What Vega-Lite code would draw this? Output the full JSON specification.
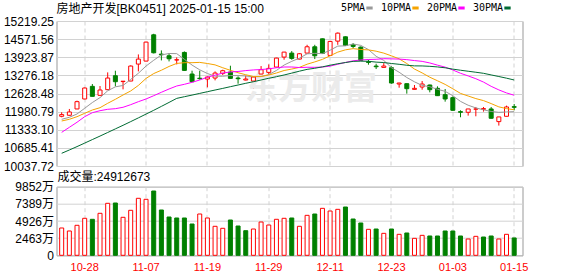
{
  "$schema": "https://vega.github.io/schema/vega-lite/v6.json",
  "padding": {"left": 0.5, "top": 3, "right": 0, "bottom": 0},
  "background": "#ffffff",
  "bounds": "flush",
  "spacing": 20.7,
  "config": {
    "font": "Liberation Sans",
    "view": {"stroke": "#999999", "strokeWidth": 1},
    "axis": {"labelFont": "Liberation Sans, Noto Sans CJK SC", "labelFontSize": 12, "labelColor": "#000000", "gridColor": "#d2d2d2", "gridWidth": 1, "domain": false, "ticks": false, "labelOverlap": false}
  },
  "datasets": {
    "k": [
      {"date":"2024-10-23","o":11814,"h":11957,"l":11779,"c":11874,"up":"r","v":3921,"vup":"r","5PMA":11707,"10PMA":11646,"20PMA":11240,"30PMA":10492},
      {"date":"2024-10-24","o":11850,"h":12076,"l":11840,"c":11969,"up":"r","v":3490,"vup":"r","5PMA":11778,"10PMA":11707,"20PMA":11420,"30PMA":10610},
      {"date":"2024-10-25","o":12076,"h":12373,"l":12070,"c":12337,"up":"r","v":4308,"vup":"r","5PMA":11896,"10PMA":11800,"20PMA":11600,"30PMA":10731},
      {"date":"2024-10-28","o":12432,"h":12840,"l":12425,"c":12825,"up":"r","v":5314,"vup":"r","5PMA":12100,"10PMA":11921,"20PMA":11800,"30PMA":10856},
      {"date":"2024-10-29","o":12884,"h":12967,"l":12527,"c":12527,"up":"g","v":5170,"vup":"g","5PMA":12306,"10PMA":12039,"20PMA":11943,"30PMA":10982},
      {"date":"2024-10-30","o":12563,"h":12896,"l":12555,"c":12753,"up":"r","v":6032,"vup":"r","5PMA":12482,"10PMA":12121,"20PMA":12014,"30PMA":11107},
      {"date":"2024-10-31","o":12765,"h":13383,"l":12760,"c":13181,"up":"r","v":7468,"vup":"r","5PMA":12725,"10PMA":12278,"20PMA":12064,"30PMA":11235},
      {"date":"2024-11-01","o":13264,"h":13443,"l":12884,"c":13050,"up":"g","v":7511,"vup":"g","5PMA":12867,"10PMA":12421,"20PMA":12086,"30PMA":11364},
      {"date":"2024-11-04","o":13055,"h":13074,"l":12777,"c":13068,"up":"r","v":5457,"vup":"r","5PMA":12915,"10PMA":12575,"20PMA":12136,"30PMA":11492},
      {"date":"2024-11-05","o":13074,"h":13633,"l":13070,"c":13609,"up":"r","v":6463,"vup":"r","5PMA":13131,"10PMA":12719,"20PMA":12229,"30PMA":11624},
      {"date":"2024-11-06","o":13680,"h":14025,"l":13419,"c":13858,"up":"r","v":8186,"vup":"r","5PMA":13352,"10PMA":12917,"20PMA":12336,"30PMA":11757},
      {"date":"2024-11-07","o":13787,"h":14480,"l":13780,"c":14465,"up":"r","v":8042,"vup":"r","5PMA":13609,"10PMA":13167,"20PMA":12432,"30PMA":11893},
      {"date":"2024-11-08","o":14726,"h":14762,"l":14061,"c":14084,"up":"g","v":9234,"vup":"g","5PMA":13816,"10PMA":13341,"20PMA":12550,"30PMA":12028},
      {"date":"2024-11-11","o":14037,"h":14168,"l":13811,"c":14013,"up":"g","v":6506,"vup":"g","5PMA":14006,"10PMA":13460,"20PMA":12672,"30PMA":12168},
      {"date":"2024-11-12","o":13977,"h":14072,"l":13775,"c":13870,"up":"g","v":5500,"vup":"g","5PMA":14058,"10PMA":13595,"20PMA":12790,"30PMA":12310},
      {"date":"2024-11-13","o":13825,"h":13918,"l":13668,"c":13835,"up":"r","v":5357,"vup":"g","5PMA":14053,"10PMA":13703,"20PMA":12897,"30PMA":12454},
      {"date":"2024-11-14","o":14096,"h":14132,"l":13440,"c":13454,"up":"g","v":5357,"vup":"g","5PMA":13851,"10PMA":13730,"20PMA":12957,"30PMA":12514},
      {"date":"2024-11-15","o":13324,"h":13443,"l":13040,"c":13050,"up":"g","v":4495,"vup":"g","5PMA":13644,"10PMA":13730,"20PMA":13028,"30PMA":12572},
      {"date":"2024-11-18","o":13175,"h":13443,"l":13122,"c":13160,"up":"g","v":5931,"vup":"r","5PMA":13474,"10PMA":13740,"20PMA":13111,"30PMA":12632},
      {"date":"2024-11-19","o":13145,"h":13240,"l":12848,"c":13217,"up":"r","v":5357,"vup":"r","5PMA":13343,"10PMA":13701,"20PMA":13210,"30PMA":12693},
      {"date":"2024-11-20","o":13181,"h":13419,"l":13098,"c":13359,"up":"r","v":4164,"vup":"r","5PMA":13248,"10PMA":13651,"20PMA":13284,"30PMA":12753},
      {"date":"2024-11-21","o":13348,"h":13478,"l":13288,"c":13443,"up":"r","v":3877,"vup":"r","5PMA":13246,"10PMA":13549,"20PMA":13358,"30PMA":12811},
      {"date":"2024-11-22","o":13395,"h":13621,"l":13160,"c":13169,"up":"g","v":5069,"vup":"g","5PMA":13270,"10PMA":13457,"20PMA":13399,"30PMA":12872},
      {"date":"2024-11-25","o":13181,"h":13240,"l":12979,"c":13157,"up":"g","v":4207,"vup":"g","5PMA":13269,"10PMA":13371,"20PMA":13416,"30PMA":12932},
      {"date":"2024-11-26","o":13110,"h":13264,"l":13098,"c":13145,"up":"r","v":3533,"vup":"g","5PMA":13255,"10PMA":13299,"20PMA":13447,"30PMA":12993},
      {"date":"2024-11-27","o":13074,"h":13240,"l":12789,"c":13217,"up":"r","v":3777,"vup":"r","5PMA":13226,"10PMA":13237,"20PMA":13470,"30PMA":13050},
      {"date":"2024-11-28","o":13324,"h":13609,"l":13315,"c":13478,"up":"r","v":4782,"vup":"r","5PMA":13233,"10PMA":13240,"20PMA":13485,"30PMA":13111},
      {"date":"2024-11-29","o":13383,"h":13668,"l":13312,"c":13526,"up":"r","v":4351,"vup":"r","5PMA":13305,"10PMA":13287,"20PMA":13509,"30PMA":13172},
      {"date":"2024-12-02","o":13573,"h":13905,"l":13565,"c":13894,"up":"r","v":5170,"vup":"r","5PMA":13452,"10PMA":13361,"20PMA":13550,"30PMA":13229},
      {"date":"2024-12-03","o":13930,"h":14115,"l":13835,"c":14108,"up":"r","v":5313,"vup":"r","5PMA":13645,"10PMA":13450,"20PMA":13575,"30PMA":13290},
      {"date":"2024-12-04","o":14072,"h":14144,"l":13835,"c":13882,"up":"g","v":5357,"vup":"g","5PMA":13778,"10PMA":13502,"20PMA":13576,"30PMA":13357},
      {"date":"2024-12-05","o":13858,"h":14072,"l":13850,"c":14049,"up":"r","v":4164,"vup":"r","5PMA":13892,"10PMA":13563,"20PMA":13556,"30PMA":13426},
      {"date":"2024-12-06","o":14072,"h":14369,"l":14065,"c":14298,"up":"r","v":5739,"vup":"r","5PMA":14046,"10PMA":13675,"20PMA":13566,"30PMA":13491},
      {"date":"2024-12-09","o":14298,"h":14369,"l":13858,"c":13977,"up":"g","v":5931,"vup":"g","5PMA":14063,"10PMA":13757,"20PMA":13564,"30PMA":13530},
      {"date":"2024-12-10","o":14583,"h":14590,"l":14055,"c":14061,"up":"g","v":6745,"vup":"r","5PMA":14053,"10PMA":13849,"20PMA":13574,"30PMA":13581},
      {"date":"2024-12-11","o":13989,"h":14512,"l":13980,"c":14489,"up":"r","v":6362,"vup":"r","5PMA":14175,"10PMA":13976,"20PMA":13607,"30PMA":13639},
      {"date":"2024-12-12","o":14500,"h":14809,"l":14369,"c":14785,"up":"r","v":6601,"vup":"r","5PMA":14322,"10PMA":14107,"20PMA":13673,"30PMA":13692},
      {"date":"2024-12-13","o":14655,"h":14667,"l":14334,"c":14346,"up":"g","v":6936,"vup":"g","5PMA":14332,"10PMA":14189,"20PMA":13738,"30PMA":13735},
      {"date":"2024-12-16","o":14369,"h":14429,"l":14239,"c":14310,"up":"g","v":5213,"vup":"g","5PMA":14398,"10PMA":14231,"20PMA":13796,"30PMA":13777},
      {"date":"2024-12-17","o":14286,"h":14310,"l":13799,"c":13811,"up":"g","v":4639,"vup":"g","5PMA":14348,"10PMA":14201,"20PMA":13825,"30PMA":13784},
      {"date":"2024-12-18","o":13763,"h":13835,"l":13657,"c":13740,"up":"g","v":3730,"vup":"r","5PMA":14198,"10PMA":14187,"20PMA":13844,"30PMA":13780},
      {"date":"2024-12-19","o":13609,"h":13692,"l":13502,"c":13585,"up":"g","v":3777,"vup":"g","5PMA":13958,"10PMA":14140,"20PMA":13851,"30PMA":13750},
      {"date":"2024-12-20","o":13561,"h":13716,"l":13555,"c":13609,"up":"r","v":3155,"vup":"r","5PMA":13811,"10PMA":14071,"20PMA":13873,"30PMA":13735},
      {"date":"2024-12-23","o":13550,"h":13597,"l":12979,"c":13003,"up":"g","v":3777,"vup":"g","5PMA":13550,"10PMA":13974,"20PMA":13866,"30PMA":13701},
      {"date":"2024-12-24","o":12967,"h":13010,"l":12836,"c":13003,"up":"r","v":3012,"vup":"r","5PMA":13388,"10PMA":13868,"20PMA":13859,"30PMA":13672},
      {"date":"2024-12-25","o":12979,"h":12985,"l":12623,"c":12801,"up":"g","v":3203,"vup":"g","5PMA":13200,"10PMA":13699,"20PMA":13838,"30PMA":13638},
      {"date":"2024-12-26","o":12777,"h":12932,"l":12770,"c":12813,"up":"r","v":2437,"vup":"r","5PMA":13046,"10PMA":13502,"20PMA":13805,"30PMA":13616},
      {"date":"2024-12-27","o":12860,"h":13074,"l":12765,"c":12967,"up":"r","v":2868,"vup":"r","5PMA":12917,"10PMA":13364,"20PMA":13777,"30PMA":13613},
      {"date":"2024-12-30","o":12932,"h":12945,"l":12670,"c":12765,"up":"g","v":2772,"vup":"g","5PMA":12870,"10PMA":13210,"20PMA":13720,"30PMA":13600},
      {"date":"2024-12-31","o":12813,"h":12884,"l":12545,"c":12551,"up":"g","v":2772,"vup":"g","5PMA":12779,"10PMA":13084,"20PMA":13642,"30PMA":13578},
      {"date":"2025-01-02","o":12587,"h":12789,"l":12337,"c":12432,"up":"g","v":3490,"vup":"g","5PMA":12706,"10PMA":12953,"20PMA":13570,"30PMA":13547},
      {"date":"2025-01-03","o":12480,"h":12527,"l":12015,"c":12028,"up":"g","v":3490,"vup":"g","5PMA":12549,"10PMA":12797,"20PMA":13469,"30PMA":13500},
      {"date":"2025-01-06","o":11981,"h":12028,"l":11779,"c":11957,"up":"g","v":2772,"vup":"g","5PMA":12347,"10PMA":12632,"20PMA":13352,"30PMA":13460},
      {"date":"2025-01-07","o":11957,"h":12076,"l":11838,"c":12076,"up":"r","v":2341,"vup":"r","5PMA":12209,"10PMA":12539,"20PMA":13257,"30PMA":13424},
      {"date":"2025-01-08","o":12070,"h":12147,"l":11814,"c":12076,"up":"r","v":2724,"vup":"r","5PMA":12114,"10PMA":12447,"20PMA":13157,"30PMA":13388},
      {"date":"2025-01-09","o":12064,"h":12147,"l":11981,"c":12088,"up":"r","v":2628,"vup":"g","5PMA":12045,"10PMA":12375,"20PMA":13037,"30PMA":13350},
      {"date":"2025-01-10","o":12076,"h":12147,"l":11735,"c":11743,"up":"g","v":2772,"vup":"g","5PMA":11988,"10PMA":12268,"20PMA":12885,"30PMA":13292},
      {"date":"2025-01-13","o":11624,"h":11791,"l":11482,"c":11791,"up":"r","v":2341,"vup":"r","5PMA":11955,"10PMA":12151,"20PMA":12757,"30PMA":13235},
      {"date":"2025-01-14","o":11814,"h":12195,"l":11810,"c":12147,"up":"r","v":3012,"vup":"r","5PMA":11969,"10PMA":12089,"20PMA":12649,"30PMA":13176},
      {"date":"2025-01-15","o":12159,"h":12254,"l":12028,"c":12135,"up":"g","v":2491,"vup":"g","5PMA":11981,"10PMA":12047,"20PMA":12566,"30PMA":13111}
    ]
  },
  "vconcat": [
    {
      "width": 466,
      "height": 145,
      "data": {"name": "k"},
      "encoding": {
        "x": {
          "field": "date", "type": "ordinal", "title": null,
          "scale": {"paddingInner": 0, "paddingOuter": 0.38, "align": 0.23},
          "axis": {"values": ["2024-10-28","2024-11-07","2024-11-19","2024-11-29","2024-12-11","2024-12-23","2025-01-03","2025-01-15"], "labels": false, "grid": true, "gridDash": [4, 3], "bandPosition": 0.5, "minExtent": 0, "maxExtent": 0}
        }
      },
      "layer": [
        {
          "mark": {"type": "rule", "strokeWidth": 1},
          "encoding": {
            "y": {
              "field": "l", "type": "quantitative", "title": null,
              "scale": {"domain": [10037.72, 15219.25], "nice": false, "zero": false},
              "axis": {"values": [10037.72, 10685.41, 11333.10, 11980.79, 12628.48, 13276.18, 13923.87, 14571.56, 15219.25], "format": ".2f", "grid": true, "labelOverlap": false, "labelPadding": 3, "minExtent": 55, "maxExtent": 55}
            },
            "y2": {"field": "h"},
            "stroke": {"field": "up", "type": "nominal", "scale": {"domain": ["r", "g"], "range": ["#ff0000", "#008000"]}, "legend": null}
          }
        },
        {
          "data": {"values": [{"wm": "东方财富"}]},
          "mark": {"type": "text", "font": "Noto Sans CJK SC", "fontSize": 33, "fontWeight": "bold", "color": "#ebebeb", "align": "center", "baseline": "middle", "dx": 4},
          "encoding": {
            "text": {"field": "wm"},
            "x": {"datum": "2024-12-06"},
            "y": {"datum": 12790, "type": "quantitative", "axis": {"values": [10037.72, 10685.41, 11333.10, 11980.79, 12628.48, 13276.18, 13923.87, 14571.56, 15219.25], "format": ".2f", "grid": true, "labelOverlap": false, "labelPadding": 3, "minExtent": 55, "maxExtent": 55}}
          }
        },
        {
          "mark": {"type": "bar", "width": 4, "strokeWidth": 1},
          "encoding": {
            "y": {"field": "o", "type": "quantitative", "title": null, "axis": {"values": [10037.72, 10685.41, 11333.10, 11980.79, 12628.48, 13276.18, 13923.87, 14571.56, 15219.25], "format": ".2f", "grid": true, "labelOverlap": false, "labelPadding": 3, "minExtent": 55, "maxExtent": 55}},
            "y2": {"field": "c"},
            "fill": {"field": "up", "type": "nominal", "scale": {"domain": ["r", "g"], "range": ["#ffffff", "#008000"]}, "legend": null},
            "stroke": {"field": "up", "type": "nominal", "legend": null}
          }
        },
        {
          "transform": [{"fold": ["5PMA", "10PMA", "20PMA", "30PMA"], "as": ["ma", "val"]}],
          "mark": {"type": "line", "strokeWidth": 1},
          "encoding": {
            "y": {"field": "val", "type": "quantitative", "title": null, "axis": {"values": [10037.72, 10685.41, 11333.10, 11980.79, 12628.48, 13276.18, 13923.87, 14571.56, 15219.25], "format": ".2f", "grid": true, "labelOverlap": false, "labelPadding": 3, "minExtent": 55, "maxExtent": 55}},
            "color": {
              "field": "ma", "type": "nominal",
              "scale": {"domain": ["5PMA", "10PMA", "20PMA", "30PMA"], "range": ["#999999", "#f5a300", "#ff00ff", "#006b33"]},
              "legend": {
                "orient": "none", "legendX": 0, "legendY": -18, "direction": "horizontal", "padding": 0,
                "title": "房地产开发[BK0451] 2025-01-15 15:00", "titleOrient": "left", "titlePadding": 100, "titleLimit": 400,
                "titleFont": "Liberation Sans, Noto Sans CJK SC", "titleFontSize": 12, "titleFontWeight": "normal", "titleColor": "#000000",
                "symbolType": "stroke", "symbolSize": 40, "symbolStrokeWidth": 3,
                "labelFont": "DejaVu Sans Mono", "labelFontSize": 10, "labelColor": "#000000", "labelAlign": "right", "labelOffset": -9.5, "columnPadding": 1
              }
            }
          }
        }
      ]
    },
    {
      "width": 466,
      "height": 68.6,
      "title": {"text": "成交量:24912673", "anchor": "start", "frame": "group", "font": "Liberation Sans, Noto Sans CJK SC", "fontSize": 12, "fontWeight": "normal", "color": "#000000", "baseline": "bottom", "offset": -15, "dx": 1},
      "data": {"name": "k"},
      "mark": {"type": "bar", "width": 4, "strokeWidth": 1},
      "encoding": {
        "x": {
          "field": "date", "type": "ordinal", "title": null,
          "scale": {"paddingInner": 0, "paddingOuter": 0.38, "align": 0.23},
          "axis": {"values": ["2024-10-28","2024-11-07","2024-11-19","2024-11-29","2024-12-11","2024-12-23","2025-01-03","2025-01-15"], "labelExpr": "substring(datum.value, 5)", "labelColor": "#ff0000", "labelFontSize": 11, "labelAngle": 0, "labelPadding": 6, "grid": true, "gridDash": [4, 3], "bandPosition": 0.5}
        },
        "y": {
          "field": "v", "type": "quantitative", "title": null,
          "scale": {"domain": [0, 9852], "nice": false},
          "axis": {"values": [0, 2463, 4926, 7389, 9852], "labelExpr": "datum.value == 0 ? '0' : datum.value + '万'", "grid": true, "labelOverlap": false, "labelPadding": 3, "minExtent": 55, "maxExtent": 55}
        },
        "fill": {"field": "vup", "type": "nominal", "scale": {"domain": ["r", "g"], "range": ["#ffffff", "#008000"]}, "legend": null},
        "stroke": {"field": "vup", "type": "nominal", "scale": {"domain": ["r", "g"], "range": ["#ff0000", "#008000"]}, "legend": null}
      }
    }
  ]
}
